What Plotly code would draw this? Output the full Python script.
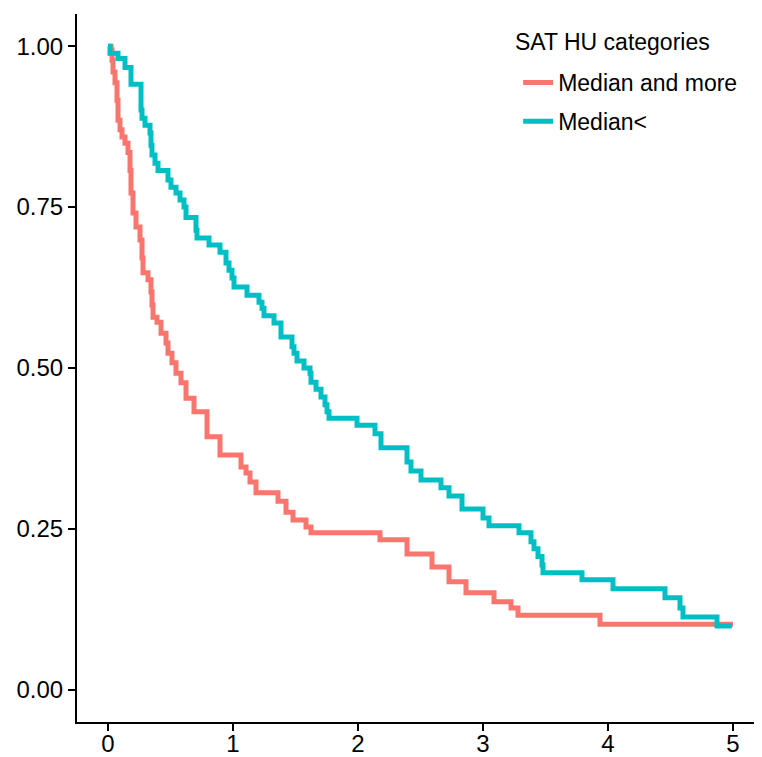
import plotly.graph_objects as go

# Kaplan-Meier style step data
red_name = "Median and more"
red_time = [0.0, 0.024, 0.032, 0.040, 0.056, 0.072, 0.080, 0.096, 0.112, 0.136, 0.160, 0.176,
            0.184, 0.200, 0.224, 0.256, 0.272, 0.280, 0.320, 0.344, 0.352, 0.360, 0.392,
            0.424, 0.464, 0.480, 0.512, 0.544, 0.584, 0.624, 0.688, 0.792, 0.896, 1.064,
            1.104, 1.136, 1.184, 1.360, 1.424, 1.480, 1.584, 1.624, 2.176, 2.392, 2.592,
            2.728, 2.864, 3.088, 3.224, 3.280, 3.936, 5.0]
red_surv = [1.0, 0.994, 0.978, 0.960, 0.943, 0.916, 0.885, 0.870, 0.859, 0.849, 0.835, 0.807,
            0.772, 0.741, 0.719, 0.699, 0.671, 0.648, 0.637, 0.618, 0.598, 0.579, 0.571,
            0.554, 0.539, 0.523, 0.508, 0.492, 0.477, 0.453, 0.432, 0.393, 0.365, 0.346,
            0.337, 0.323, 0.306, 0.293, 0.276, 0.264, 0.253, 0.244, 0.233, 0.211, 0.191,
            0.168, 0.151, 0.137, 0.127, 0.116, 0.102, 0.102]

cyan_name = "Median<"
cyan_time = [0.0, 0.016, 0.080, 0.136, 0.184, 0.264, 0.272, 0.296, 0.336, 0.344, 0.352, 0.376,
             0.400, 0.480, 0.504, 0.544, 0.576, 0.608, 0.624, 0.704, 0.712, 0.808, 0.896,
             0.944, 0.968, 0.992, 1.008, 1.112, 1.208, 1.232, 1.248, 1.328, 1.384, 1.472,
             1.488, 1.512, 1.568, 1.616, 1.624, 1.664, 1.704, 1.736, 1.752, 1.768, 1.992,
             2.136, 2.184, 2.392, 2.424, 2.504, 2.664, 2.728, 2.832, 3.000, 3.048, 3.288,
             3.384, 3.408, 3.440, 3.472, 3.480, 3.792, 4.040, 4.456, 4.576, 4.600, 4.872, 4.99]
cyan_surv = [1.0, 0.989, 0.981, 0.967, 0.941, 0.901, 0.888, 0.877, 0.865, 0.846, 0.831, 0.818,
             0.807, 0.792, 0.781, 0.772, 0.761, 0.750, 0.734, 0.714, 0.702, 0.691, 0.680,
             0.663, 0.652, 0.640, 0.626, 0.613, 0.602, 0.593, 0.581, 0.570, 0.548, 0.533,
             0.523, 0.511, 0.500, 0.492, 0.478, 0.467, 0.455, 0.443, 0.432, 0.422, 0.411,
             0.398, 0.376, 0.354, 0.340, 0.326, 0.314, 0.301, 0.281, 0.267, 0.255, 0.244,
             0.230, 0.219, 0.207, 0.194, 0.182, 0.171, 0.157, 0.143, 0.127, 0.113, 0.099, 0.099]

x_ticks = [0, 1, 2, 3, 4, 5]
y_ticks = [0.0, 0.25, 0.5, 0.75, 1.0]
y_tick_labels = ["0.00", "0.25", "0.50", "0.75", "1.00"]
legend_title = "SAT HU categories"

fig = go.Figure()
fig.add_trace(go.Scatter(x=red_time, y=red_surv, mode="lines", name=red_name,
                         legendgroup="g1",
                         line=dict(color="#F8766D", width=5, shape="hv")))
fig.add_trace(go.Scatter(x=cyan_time, y=cyan_surv, mode="lines", name=cyan_name,
                         legendgroup="g2",
                         line=dict(color="#00BFC4", width=5, shape="hv")))

font_family = "Liberation Sans, Arial, sans-serif"
# the page body has an 8px margin, so the figure is 8px smaller on each side
fig.update_layout(
    width=754, height=749,
    margin=dict(l=69, r=0, t=6, b=35, autoexpand=False),
    paper_bgcolor="white", plot_bgcolor="white",
    font=dict(family=font_family, size=23, color="black"),
    legend=dict(
        x=0.644, y=0.9337, xanchor="left", yanchor="top",
        bgcolor="rgba(0,0,0,0)", font=dict(size=23, color="black"),
        tracegroupgap=6,
    ),
    xaxis=dict(range=[-0.248, 5.232], tickvals=x_ticks, ticks="outside", ticklen=7,
               tickwidth=2, tickcolor="black", showline=True, linecolor="black",
               linewidth=2, showgrid=False, zeroline=False, automargin=False,
               ticklabelstandoff=-8,
               tickfont=dict(size=24, color="black")),
    yaxis=dict(range=[-0.05, 1.05], tickvals=y_ticks, ticktext=y_tick_labels,
               ticks="outside", ticklen=7, tickwidth=2, tickcolor="black",
               showline=True, linecolor="black", linewidth=2, showgrid=False,
               zeroline=False, automargin=False, tickfont=dict(size=24, color="black")),
    annotations=[dict(text=legend_title, xref="paper", yref="paper", x=0.6365, y=0.9605,
                      xanchor="left", yanchor="middle", showarrow=False,
                      font=dict(size=23, color="black"))],
)

fig.write_html("out.html")
